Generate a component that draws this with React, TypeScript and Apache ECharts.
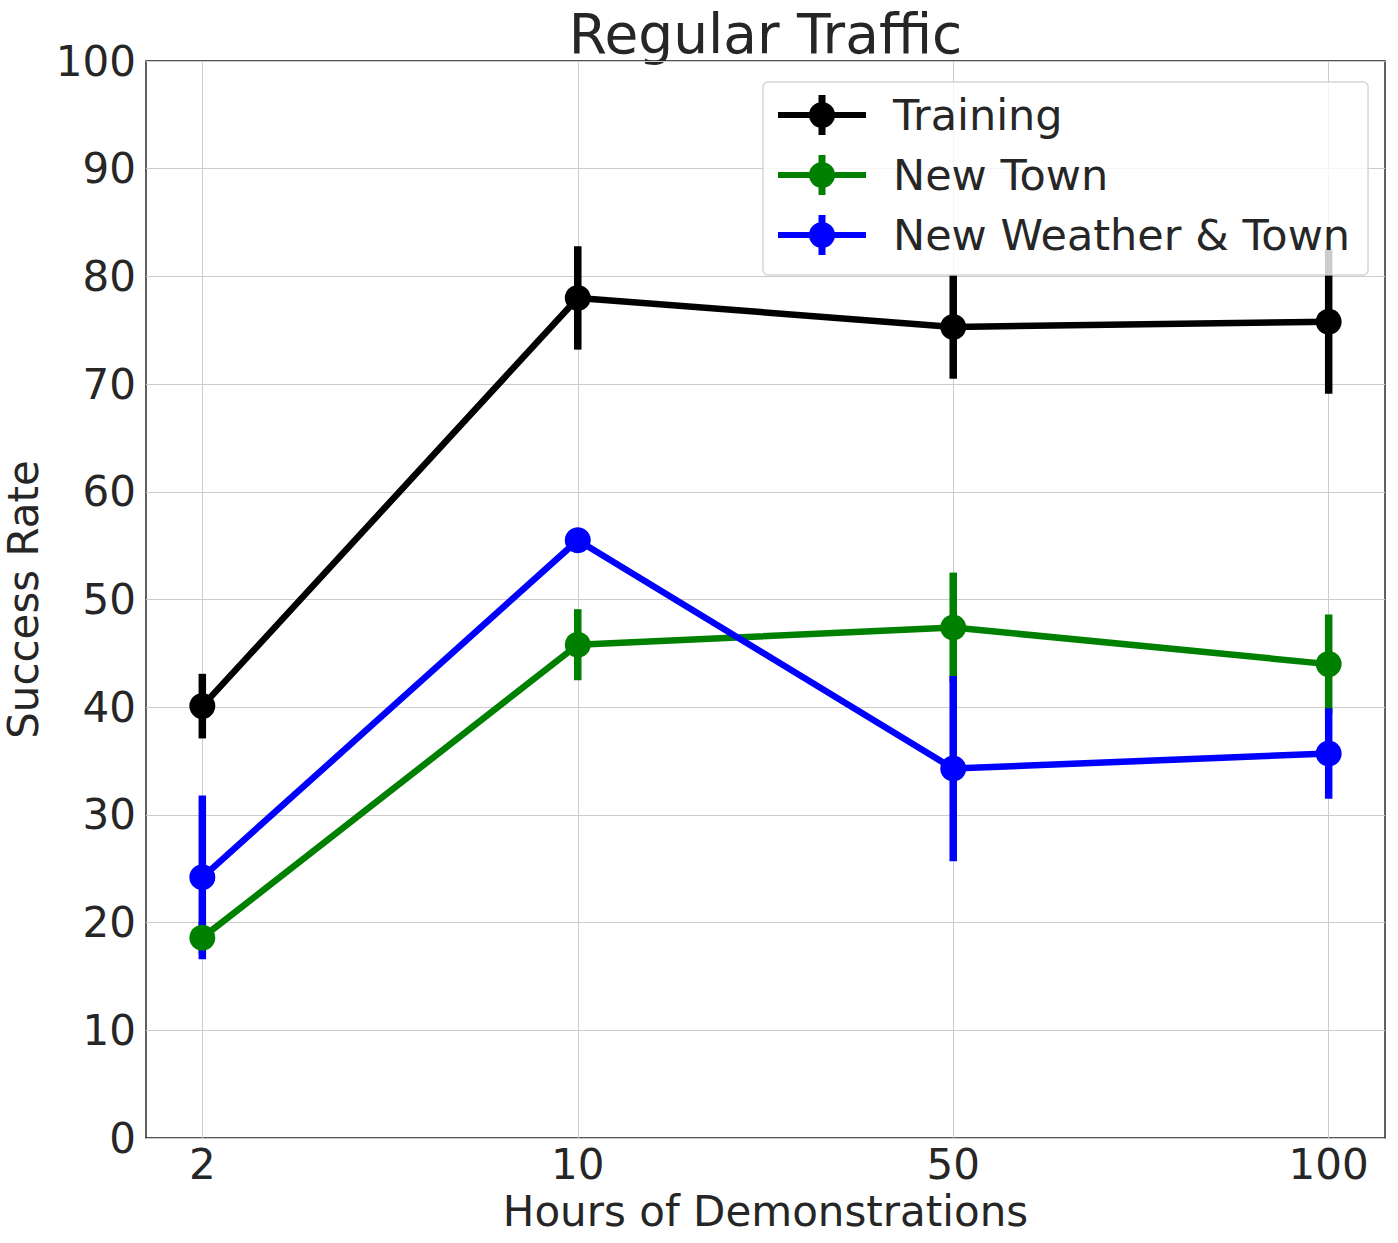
import React, { useEffect, useRef } from "react";
import * as echarts from "echarts";

const categories = ["2", "10", "50", "100"];
const trainingValues = [40.1, 78.0, 75.3, 75.8];
const trainingErrors = [3.0, 4.8, 4.8, 6.7];
const newTownValues = [18.6, 45.8, 47.4, 44.0];
const newTownErrors = [1.5, 3.3, 5.1, 4.6];
const newWeatherValues = [24.2, 55.5, 34.3, 35.7];
const newWeatherErrors = [7.6, 1.0, 8.6, 4.2];
const yTicks = [0, 10, 20, 30, 40, 50, 60, 70, 80, 90, 100];

const FONT = "DejaVu Sans";
const TEXT = "#262626";

const seriesDefs = [
  { name: "Training", color: "#000000", values: trainingValues, errors: trainingErrors },
  { name: "New Town", color: "#008000", values: newTownValues, errors: newTownErrors },
  { name: "New Weather & Town", color: "#0000ff", values: newWeatherValues, errors: newWeatherErrors },
];

const ICON =
  "path://M0 17H88V23H0Z M40.5 0H47.5V40H40.5Z M31 20A13 13 0 1 1 57 20A13 13 0 1 1 31 20Z";

export default function App() {
  const ref = useRef<HTMLDivElement>(null);
  useEffect(() => {
    if (!ref.current) return;
    const chart = echarts.init(ref.current, undefined, { renderer: "svg" });
    const xIdx = categories.map((_, i) => i);

    const errorSeries = seriesDefs.map((s) => ({
      type: "custom",
      name: s.name + " err",
      z: 2,
      silent: true,
      data: s.values.map((v, i) => [i, v, s.errors[i]]),
      encode: { x: 0, y: 1 },
      renderItem: (params: any, api: any) => {
        const x = api.value(0);
        const y = api.value(1);
        const e = api.value(2);
        const p1 = api.coord([x, y + e]);
        const p2 = api.coord([x, y - e]);
        return {
          type: "line",
          shape: { x1: p1[0], y1: p1[1], x2: p2[0], y2: p2[1] },
          style: { stroke: s.color, lineWidth: 7.5 },
        };
      },
    }));

    const lineSeries = seriesDefs.map((s) => ({
      type: "line",
      name: s.name,
      z: 3,
      data: s.values.map((v, i) => [i, v]),
      symbol: "circle",
      symbolSize: 26,
      showSymbol: true,
      itemStyle: { color: s.color, borderWidth: 0 },
      lineStyle: { color: s.color, width: 6.5, join: "round" },
      emphasis: { disabled: true },
    }));

    chart.setOption({
      animation: false,
      backgroundColor: "#ffffff",
      textStyle: { fontFamily: FONT },
      graphic: [
        {
          type: "text",
          x: 765.5,
          y: 34,
          style: {
            text: "Regular Traffic",
            fontSize: 55,
            fontFamily: FONT,
            fill: TEXT,
            align: "center",
            verticalAlign: "middle",
          },
        },
      ],
      grid: {
        left: 146,
        right: 13,
        top: 61,
        bottom: 105,
        show: true,
        containLabel: false,
        outerBoundsMode: "none",
        borderColor: "#1e1e1e",
        borderWidth: 1.4,
        backgroundColor: "transparent",
      },
      legend: {
        orient: "vertical",
        left: 763,
        top: 82,
        itemWidth: 88,
        itemHeight: 40,
        itemGap: 12,
        padding: [9, 18, 16, 15],
        backgroundColor: "rgba(255,255,255,0.8)",
        borderColor: "rgba(204,204,204,0.8)",
        borderWidth: 1.5,
        borderRadius: 5,
        z: 10,
        itemStyle: { borderWidth: 0 },
        textStyle: {
          fontSize: 43,
          fontFamily: FONT,
          color: TEXT,
          lineHeight: 48,
          padding: [0, 0, 0, 22],
        },
        data: seriesDefs.map((s) => ({ name: s.name, icon: ICON })),
      },
      xAxis: {
        type: "value",
        min: -0.15,
        max: 3.15,
        name: "Hours of Demonstrations",
        nameLocation: "middle",
        nameGap: 52,
        nameTextStyle: { fontSize: 42, fontFamily: FONT, color: TEXT, lineHeight: 42 },
        axisLine: { show: false },
        axisTick: { show: false, customValues: xIdx },
        axisLabel: {
          customValues: xIdx,
          fontSize: 42,
          lineHeight: 42,
          fontFamily: FONT,
          color: TEXT,
          margin: 5,
          formatter: (v: number) => categories[Math.round(v)] ?? "",
        },
        splitLine: { show: true, lineStyle: { color: "#cccccc", width: 1 } },
      },
      yAxis: {
        type: "value",
        min: 0,
        max: 100,
        interval: 10,
        name: "Success Rate",
        nameLocation: "middle",
        nameGap: 96,
        nameTextStyle: { fontSize: 42, fontFamily: FONT, color: TEXT, lineHeight: 42 },
        axisLine: { show: false },
        axisTick: { show: false },
        axisLabel: {
          fontSize: 42,
          fontFamily: FONT,
          color: TEXT,
          margin: 10,
          formatter: (v: number) => (yTicks.includes(v) ? String(v) : ""),
        },
        splitLine: { show: true, lineStyle: { color: "#cccccc", width: 1 } },
      },
      series: [...errorSeries, ...lineSeries],
    });
    return () => chart.dispose();
  }, []);

  return (
    <div
      ref={ref}
      style={{ position: "absolute", left: 0, top: 0, width: 1398, height: 1243 }}
    />
  );
}
